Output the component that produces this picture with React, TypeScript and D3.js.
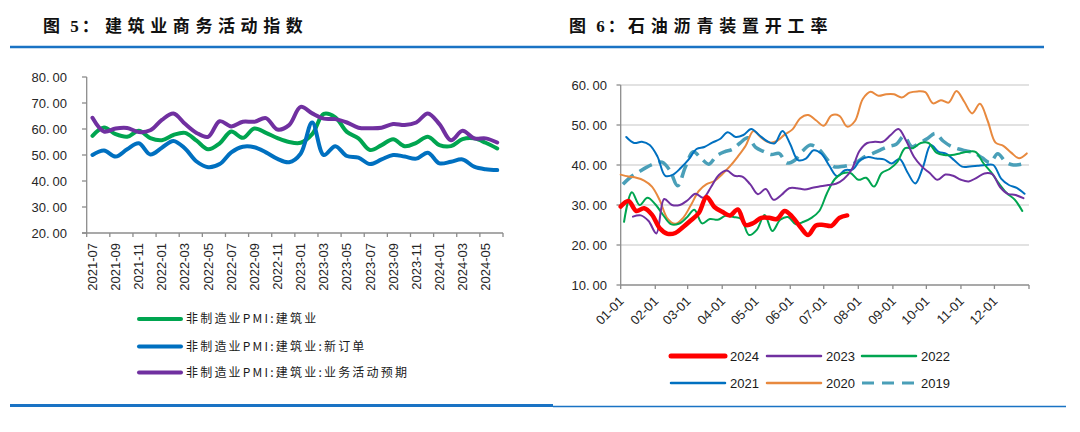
import React from "react";
import * as d3 from "d3";

// ---------- Left chart data (建筑业商务活动指数) ----------
const categories = [
  "2021-07", "2021-08", "2021-09", "2021-10", "2021-11", "2021-12",
  "2022-01", "2022-02", "2022-03", "2022-04", "2022-05", "2022-06",
  "2022-07", "2022-08", "2022-09", "2022-10", "2022-11", "2022-12",
  "2023-01", "2023-02", "2023-03", "2023-04", "2023-05", "2023-06",
  "2023-07", "2023-08", "2023-09", "2023-10", "2023-11", "2023-12",
  "2024-01", "2024-02", "2024-03", "2024-04", "2024-05", "2024-06",
];
const pmiConstruction = [
  57.4, 60.6, 58.0, 57.0, 59.3, 56.5, 55.7, 57.7, 58.5, 55.5, 52.2, 54.5,
  59.0, 56.6, 60.2, 58.5, 56.5, 55.0, 54.7, 58.0, 65.8, 64.5, 58.9, 56.4,
  51.9, 53.8, 56.1, 53.4, 54.7, 57.0, 53.8, 53.4, 56.1, 56.4, 54.7, 52.5,
];
const pmiNewOrders = [
  50.0, 51.7, 49.4, 52.2, 54.5, 50.2, 52.8, 55.4, 52.5, 47.5, 45.3, 46.5,
  51.0, 53.2, 53.0, 51.0, 48.5, 47.2, 50.5, 62.5, 50.0, 53.4, 49.6, 49.0,
  46.5, 48.3, 50.0, 49.4, 48.6, 50.9, 46.8, 47.4, 48.3, 45.5, 44.5, 44.2,
];
const pmiExpectation = [
  64.3, 59.0, 60.2, 60.4, 58.8, 59.5, 63.5, 66.0, 62.0, 58.5, 57.0, 63.0,
  61.0, 62.8, 62.8, 64.2, 59.8, 61.5, 68.5, 66.0, 64.0, 63.8, 62.5, 60.5,
  60.3, 60.5, 61.9, 61.5, 62.5, 66.0, 61.9, 55.7, 59.3, 56.4, 56.4, 54.8,
];
const leftYTicks = [20, 30, 40, 50, 60, 70, 80];
const leftLegend = [
  "非制造业PMI:建筑业",
  "非制造业PMI:建筑业:新订单",
  "非制造业PMI:建筑业:业务活动预期",
];

// ---------- Right chart data (石油沥青装置开工率, weekly) ----------
const start2024 = "01-01";
const rate2024 = [
  29.6, 31.0, 28.5, 29.2, 27.6, 24.2, 22.8, 23.0, 24.5, 26.2, 28.0, 32.0,
  29.5, 28.3, 27.4, 28.9, 25.0, 25.5, 26.8, 26.8, 26.5, 28.5, 27.0, 24.5,
  22.5, 24.9, 25.0, 24.8, 26.8, 27.4,
];
const start2023 = "01-12";
const rate2023 = [
  27.1, 27.4, 26.0, 22.9, 31.5, 30.0, 30.0, 31.2, 32.8, 31.8, 34.5, 37.5,
  38.6, 37.3, 37.1, 35.2, 32.7, 34.0, 31.3, 32.5, 34.2, 34.2, 33.9, 34.3,
  34.7, 35.0, 35.3, 36.5, 38.8, 43.5, 45.5, 45.8, 45.8, 47.5, 49.0, 46.0,
  42.0, 39.6, 38.0, 36.3, 37.6, 37.3, 36.3, 35.9, 36.8, 37.9, 37.7, 34.5,
  32.8, 32.5, 31.7,
];
const start2022 = "01-04";
const rate2022 = [
  25.8, 33.2, 30.0, 31.8, 30.2, 27.5, 25.2, 25.3, 26.8, 28.8, 25.4, 26.5,
  26.3, 27.3, 27.0, 26.5, 22.5, 23.8, 27.5, 23.5, 26.3, 27.0, 25.2, 25.8,
  26.8, 28.5, 33.0, 36.5, 37.9, 38.0, 36.3, 36.8, 34.6, 38.0, 39.0, 40.8,
  44.2, 44.2, 45.5, 45.5, 43.1, 42.5, 42.5, 42.9, 43.3, 43.3, 40.5, 38.2,
  35.4, 33.0, 31.4, 28.5,
];
const start2021 = "01-06";
const rate2021 = [
  47.0, 45.5, 45.8, 45.0, 42.1, 37.3, 37.6, 39.3, 41.4, 44.0, 44.5, 45.6,
  46.5, 48.2, 47.0, 47.5, 49.0, 47.5, 46.0, 45.4, 48.5, 45.2, 41.2, 41.6,
  43.7, 42.8, 39.8, 37.2, 38.7, 38.9, 41.3, 42.0, 41.6, 41.4, 40.4, 41.5,
  38.2, 35.4, 39.5, 45.0, 43.3, 42.8, 41.2, 39.6, 39.6, 39.8, 40.0, 40.0,
  36.6, 35.0, 34.3, 32.8,
];
const start2020 = "01-01";
const rate2020 = [
  37.6, 37.1, 36.8, 36.1, 34.6, 31.2, 26.6, 25.3, 26.8, 30.0, 33.5, 35.2,
  36.0, 37.7, 39.7, 42.1, 44.8, 48.5, 46.8, 45.6, 46.0, 47.6, 48.9, 51.7,
  52.5, 51.2, 49.8, 52.4, 52.3, 49.6, 51.0, 56.5, 58.3, 57.3, 57.7, 57.7,
  56.9, 58.1, 58.4, 58.2, 55.4, 56.2, 55.6, 58.5, 55.8, 52.9, 55.3, 51.0,
  45.6, 44.8, 43.1, 41.7, 42.9,
];
const start2019 = "01-03";
const rate2019 = [
  35.2, 37.0, 38.2, 39.4, 40.3, 40.7, 38.7, 34.8, 39.5, 43.3, 41.7, 40.2,
  42.3, 43.3, 43.9, 45.5, 46.8, 44.4, 43.4, 42.6, 42.9, 40.5, 41.2, 43.5,
  45.0, 44.1, 41.8, 39.6, 39.6, 40.0, 40.8, 42.1, 42.9, 43.8, 44.6, 45.2,
  47.2, 44.6, 45.5, 46.6, 47.9, 46.0, 44.7, 44.0, 43.5, 43.0, 41.8, 40.6,
  42.8, 40.8, 40.0, 40.2,
];
const rightYTicks = [10, 20, 30, 40, 50, 60];
const monthTicks = [
  "01-01", "02-01", "03-01", "04-01", "05-01", "06-01",
  "07-01", "08-01", "09-01", "10-01", "11-01", "12-01",
];
const yearNames = ["2024", "2023", "2022", "2021", "2020", "2019"];

const NUM_FONT = "'Liberation Sans', Arial, sans-serif";
const CJK_FONT = "'Noto Sans CJK SC', sans-serif";

function NumLabel(props: { x: number; y: number; v: number }) {
  const s = d3.format(".2f")(props.v);
  const [a, b] = s.split(".");
  return (
    <text x={props.x} y={props.y} dy="0.36em" textAnchor="end" fontFamily={NUM_FONT} fontSize={13} fill="#262626">
      {a + "."}
      <tspan dx={3}>{b}</tspan>
    </text>
  );
}

export default function App() {
  React.useEffect(() => {
    document.body.style.margin = "0";
  }, []);

  // ---------- left chart scales ----------
  const lx = d3.scaleBand<string>().domain(categories).range([86.7, 503]);
  const lcx = (i: number) => (lx(categories[i]) as number) + lx.bandwidth() / 2;
  const ly = d3.scaleLinear().domain([20, 80]).range([233, 77]);
  const lineL = d3
    .line<number>()
    .x((_, i) => lcx(i))
    .y((d) => ly(d))
    .curve(d3.curveCatmullRom.alpha(0.5));
  const leftSeries = [
    { name: leftLegend[0], values: pmiConstruction, color: "#00a550" },
    { name: leftLegend[1], values: pmiNewOrders, color: "#0070c0" },
    { name: leftLegend[2], values: pmiExpectation, color: "#7030a0" },
  ];

  // ---------- right chart scales ----------
  const parse = d3.timeParse("%Y-%m-%d");
  const d0 = parse("2024-01-01") as Date;
  const d1 = parse("2025-01-01") as Date;
  const rx = d3.scaleTime().domain([d0, d1]).range([620.7, 1029]);
  const ry = d3.scaleLinear().domain([10, 60]).range([285, 85]);
  const mkPts = (start: string, vals: number[]) => {
    const s = parse("2024-" + start) as Date;
    return vals.map((v, k) => ({ date: d3.timeDay.offset(s, 7 * k), v }));
  };
  const lineR = d3
    .line<{ date: Date; v: number }>()
    .x((d) => rx(d.date))
    .y((d) => ry(d.v))
    .curve(d3.curveCatmullRom.alpha(0.5));
  const rightSeries = [
    { name: yearNames[5], pts: mkPts(start2019, rate2019), color: "#4a9fb8", w: 3.5, dash: "14 7" },
    { name: yearNames[4], pts: mkPts(start2020, rate2020), color: "#e8893e", w: 2, dash: "" },
    { name: yearNames[3], pts: mkPts(start2021, rate2021), color: "#0070c0", w: 2, dash: "" },
    { name: yearNames[2], pts: mkPts(start2022, rate2022), color: "#00a550", w: 2, dash: "" },
    { name: yearNames[1], pts: mkPts(start2023, rate2023), color: "#7030a0", w: 2, dash: "" },
    { name: yearNames[0], pts: mkPts(start2024, rate2024), color: "#ff0000", w: 4.5, dash: "" },
  ];
  const legendOrder = [0, 1, 2, 3, 4, 5].map((i) => rightSeries[5 - i]);
  const legendCols = [671, 767, 862];
  const legendRows = [356, 383];
  const monthDates = monthTicks.map((m) => parse("2024-" + m) as Date);
  const tickDates = [...monthDates, d1];

  const axisColor = "#8c8c8c";
  const lineBlue = "#1a73c4";
  const titleFont = "'Liberation Serif', 'Noto Sans CJK SC', serif";

  return (
    <svg width={1080} height={432} style={{ position: "absolute", left: 0, top: 0, background: "#fff" }}>
      <defs>
        <filter id="sh" x="-5%" y="-200%" width="110%" height="500%">
          <feGaussianBlur stdDeviation="1.5" />
        </filter>
      </defs>
      <rect x={0} y={0} width={1080} height={432} fill="#fff" />

      {/* Titles */}
      <text x={43} y={32} fontFamily={titleFont} fontWeight="bold" fontSize={17} fill="#111" style={{ letterSpacing: "3px" }}>
        图 5：
        <tspan x={105} style={{ letterSpacing: "5.6px" }}>建筑业商务活动指数</tspan>
      </text>
      <text x={569} y={32} fontFamily={titleFont} fontWeight="bold" fontSize={17} fill="#111" style={{ letterSpacing: "3px" }}>
        图 6：
        <tspan x={628} style={{ letterSpacing: "5.8px" }}>石油沥青装置开工率</tspan>
      </text>
      <line x1={12} x2={1044} y1={49.5} y2={49.5} stroke="#b8cfe6" strokeWidth={3} filter="url(#sh)" />
      <line x1={10} x2={1044} y1={47} y2={47} stroke={lineBlue} strokeWidth={2.5} />

      {/* ---------- Left chart ---------- */}
      <line x1={86.7} x2={86.7} y1={ly(80)} y2={ly(20)} stroke={axisColor} strokeWidth={1.3} />
      <line x1={82} x2={503} y1={ly(20)} y2={ly(20)} stroke={axisColor} strokeWidth={1.3} />
      {leftYTicks.map((t) => (
        <g key={"ly" + t}>
          <line x1={82} x2={86.7} y1={ly(t)} y2={ly(t)} stroke={axisColor} strokeWidth={1.3} />
          <NumLabel x={67} y={ly(t)} v={t} />
        </g>
      ))}
      {categories.map((c, i) =>
        i % 2 === 0 ? (
          <g key={"lx" + c}>
            <line x1={lx(c) as number} x2={lx(c) as number} y1={233} y2={237} stroke={axisColor} strokeWidth={1.3} />
            <text
              transform={`translate(${lcx(i) + 4.5},243) rotate(-90)`}
              textAnchor="end"
              fontFamily={NUM_FONT}
              fontSize={13}
              fill="#262626"
            >
              {c}
            </text>
          </g>
        ) : null
      )}
      <line x1={503} x2={503} y1={233} y2={237} stroke={axisColor} strokeWidth={1.3} />
      {leftSeries.map((s) => (
        <path key={s.name} d={lineL(s.values) as string} fill="none" stroke={s.color} strokeWidth={4} strokeLinejoin="round" strokeLinecap="round" />
      ))}
      {leftSeries.map((s, i) => {
        const y = [319, 346.5, 372.5][i];
        return (
          <g key={"lg" + i}>
            <line x1={139} x2={181} y1={y} y2={y} stroke={s.color} strokeWidth={4} strokeLinecap="round" />
            <text x={186} y={y} dy="0.36em" fontFamily={CJK_FONT} fontSize={12} fill="#1a1a1a" style={{ letterSpacing: "2.2px" }}>
              {s.name}
            </text>
          </g>
        );
      })}

      {/* ---------- Right chart ---------- */}
      {rightYTicks.map((t) => (
        <g key={"ry" + t}>
          {t > 10 ? <line x1={620.7} x2={1029} y1={ry(t)} y2={ry(t)} stroke="#d9d9d9" strokeWidth={1.5} /> : null}
          <line x1={616.5} x2={620.7} y1={ry(t)} y2={ry(t)} stroke={axisColor} strokeWidth={1.3} />
          <NumLabel x={607} y={ry(t)} v={t} />
        </g>
      ))}
      <line x1={620.7} x2={620.7} y1={ry(60)} y2={ry(10)} stroke={axisColor} strokeWidth={1.3} />
      <line x1={620.7} x2={1029} y1={ry(10)} y2={ry(10)} stroke={axisColor} strokeWidth={1.3} />
      {tickDates.map((d, i) => (
        <line key={"rt" + i} x1={rx(d)} x2={rx(d)} y1={285} y2={289} stroke={axisColor} strokeWidth={1.3} />
      ))}
      {monthDates.map((d, i) => (
        <text
          key={"rl" + i}
          transform={`translate(${rx(d) + 4},302) rotate(-45)`}
          textAnchor="end"
          fontFamily={NUM_FONT}
          fontSize={13}
          fill="#262626"
        >
          {monthTicks[i]}
        </text>
      ))}
      {rightSeries.map((s) => (
        <path
          key={"rs" + s.name}
          d={lineR(s.pts) as string}
          fill="none"
          stroke={s.color}
          strokeWidth={s.w}
          strokeDasharray={s.dash || undefined}
          strokeLinejoin="round"
          strokeLinecap={s.dash ? "butt" : "round"}
        />
      ))}
      {legendOrder.map((s, i) => {
        const cx = legendCols[i % 3];
        const cy = legendRows[Math.floor(i / 3)];
        return (
          <g key={"rlg" + s.name}>
            <line
              x1={cx}
              x2={cx + 54}
              y1={cy}
              y2={cy}
              stroke={s.color}
              strokeWidth={s.name === "2024" ? 5 : s.dash ? 3 : 2.5}
              strokeDasharray={s.dash ? "12 8" : undefined}
              strokeLinecap={s.dash ? "butt" : "round"}
            />
            <text x={cx + 59} y={cy} dy="0.36em" fontFamily={NUM_FONT} fontSize={13} fill="#1a1a1a">
              {s.name}
            </text>
          </g>
        );
      })}

      {/* bottom rule */}
      <line x1={12} x2={1066} y1={409} y2={409} stroke="#c8d9ea" strokeWidth={2} filter="url(#sh)" />
      <line x1={10} x2={553} y1={405.5} y2={405.5} stroke={lineBlue} strokeWidth={3} />
      <line x1={553} x2={1066} y1={406.5} y2={406.5} stroke={lineBlue} strokeWidth={1.5} />
    </svg>
  );
}
